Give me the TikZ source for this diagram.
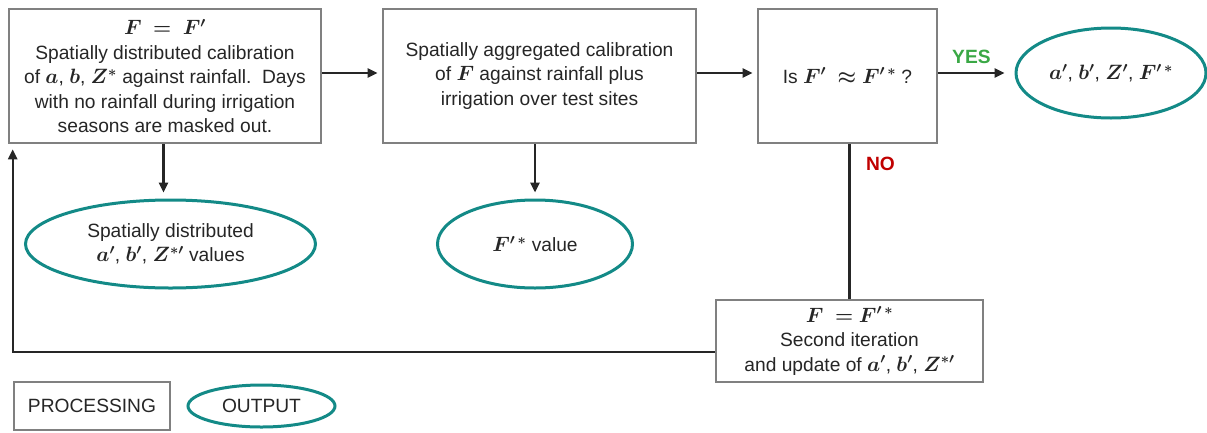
\documentclass[tikz,border=0pt]{standalone}
\usepackage{fontspec}
\setmainfont{Liberation Sans}
\usepackage{bm}
\usetikzlibrary{shapes.geometric,arrows.meta}
\definecolor{boxgray}{HTML}{808080}
\definecolor{tealc}{HTML}{138A87}
\definecolor{yesgreen}{HTML}{3AA845}
\definecolor{nored}{HTML}{C00000}
\newcommand{\mv}[1]{$\bm{#1}$}
\begin{document}
\begin{tikzpicture}[x=1pt,y=-1pt,
  font=\fontsize{19.2}{24.5}\selectfont,
  procbox/.style={draw=boxgray,line width=2.6pt,fill=white,inner sep=0pt,align=center,text=black!85},
  outell/.style={ellipse,draw=tealc,line width=3pt,fill=white,inner sep=0pt,align=center,text=black!85},
  arr/.style={line width=2.4pt,draw=black!85,-{Triangle[length=10pt,width=9pt]}},
  plain/.style={line width=2.4pt,draw=black!85}]
\useasboundingbox (0,0) rectangle (1207,432);
\node[procbox,minimum width=312pt,minimum height=134pt] (b1) at (165,76)
  {\mv{F\;=\;F'}\\Spatially distributed calibration\\of \mv{a}, \mv{b}, \mv{Z^{*}} against rainfall.\ \ Days\\with no rainfall during irrigation\\seasons are masked out.};
\node[procbox,minimum width=313pt,minimum height=134pt] (b2) at (539.5,76)
  {Spatially aggregated calibration\\of \mv{F} against rainfall plus\\irrigation over test sites};
\node[procbox,minimum width=179pt,minimum height=134pt] (b3) at (847.5,76)
  {Is \mv{F'\;\approx F'^{\,*}} ?};
\node[outell,minimum width=190pt,minimum height=90pt] (er) at (1111,73)
  {\mv{a'}, \mv{b'}, \mv{Z'}, \mv{F'^{\,*}}};
\node[outell,minimum width=290pt,minimum height=88pt] (e1) at (170.5,244)
  {Spatially distributed\\\mv{a'}, \mv{b'}, \mv{Z^{*\prime}} values};
\node[outell,minimum width=195pt,minimum height=88pt] (e2) at (535,244)
  {\mv{F'^{\,*}} value};
\node[procbox,minimum width=267pt,minimum height=82pt] (b4) at (849.5,341)
  {\mv{F\;=F'^{\,*}}\\Second iteration\\and update of \mv{a'}, \mv{b'}, \mv{Z^{*\prime}}};
\node[procbox,minimum width=156pt,minimum height=48pt] (lp) at (92,406) {PROCESSING};
\node[outell,minimum width=147pt,minimum height=42pt] (lo) at (261.5,406) {OUTPUT};
\draw[arr] ([yshift=3pt]b1.east) -- ([yshift=3pt,xshift=-4pt]b2.west);
\draw[arr] ([yshift=3pt]b2.east) -- ([yshift=3pt,xshift=-4pt]b3.west);
\draw[arr] ([yshift=3pt]b3.east) -- ([xshift=-10pt]er.west)
  node[midway,above=5pt,text=yesgreen,font=\fontsize{19.2}{22}\selectfont\bfseries] (yes) {YES};
\draw[arr] (b1.south -| e1.north) ++(-7,0) coordinate (d1) -- ([yshift=6pt,xshift=-7pt]e1.north);
\draw[arr] (b2.south -| e2.north) -- ([yshift=6pt]e2.north);
\draw[plain] (b4.north |- b3.south) -- (b4.north)
  node[pos=0.13,right=12pt,text=nored,font=\fontsize{19.2}{22}\selectfont\bfseries] (no) {NO};
\draw[arr] ([yshift=-11pt]b4.west) -| ([xshift=5pt,yshift=-5pt]b1.south west);
\end{tikzpicture}
\end{document}
